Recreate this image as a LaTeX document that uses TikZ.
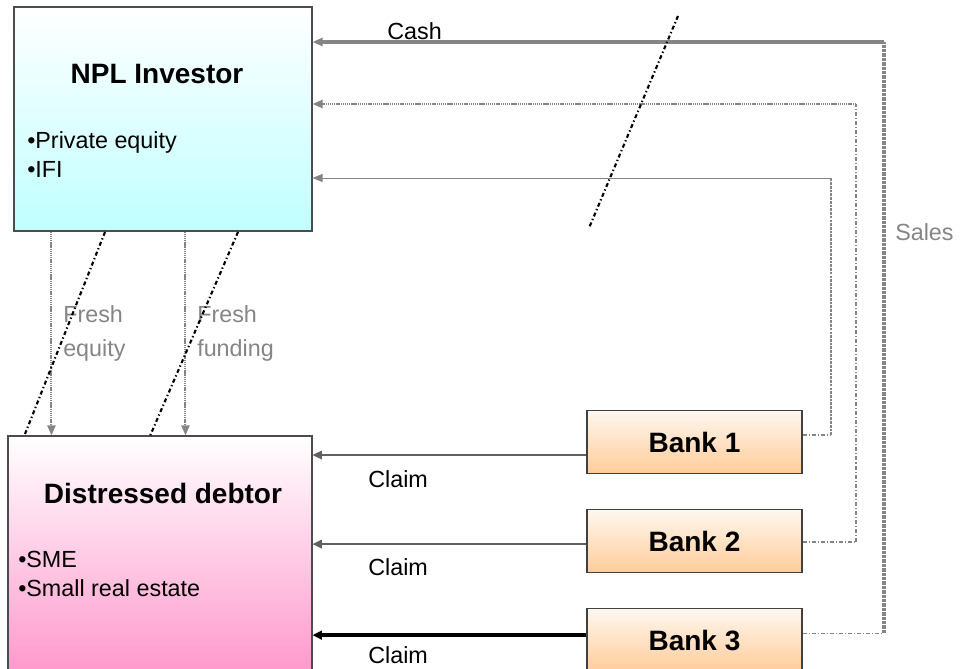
\documentclass[tikz,border=0pt]{standalone}
\usepackage{fontspec}
\setmainfont{Liberation Sans}
\usepackage{tikz}
\usetikzlibrary{arrows.meta,positioning,calc}
\definecolor{nplcyan}{HTML}{C0FFFF}
\definecolor{debtpink}{HTML}{FF99CC}
\definecolor{banktop}{HTML}{FFF7F0}
\definecolor{bankorange}{HTML}{FFCC99}
\definecolor{flowgray}{HTML}{858585}
\definecolor{claimgray}{HTML}{606060}
\tikzset{
  partybox/.style={draw=black!70, line width=0.8pt, inner sep=0pt},
  bankbox/.style={draw=black!75, line width=0.8pt, top color=banktop, bottom color=bankorange, minimum width=161.25pt, minimum height=47.25pt, inner sep=0pt, font=\fontsize{21}{25}\selectfont\bfseries},
  partytitle/.style={inner sep=0pt, anchor=base, font=\fontsize{21}{25}\selectfont\bfseries},
  bulletitem/.style={inner sep=0pt, anchor=base west, font=\fontsize{17.5}{20}\selectfont},
  flowtext/.style={inner sep=0pt, anchor=base west, font=\fontsize{17.5}{20}\selectfont},
  freshtext/.style={inner sep=0pt, anchor=north west, align=left, text=flowgray, font=\fontsize{17.5}{25.5}\selectfont},
  graytip/.style={-{Triangle[length=7.5pt,width=6pt]}},
  cashthick/.style={graytip, draw=flowgray, line width=2.6pt},
  cashdotted/.style={graytip, draw=flowgray, line width=1.8pt, dash pattern=on 1pt off 0.6pt},
  cashthin/.style={graytip, draw=flowgray, line width=0.75pt},
  railthick/.style={draw=flowgray, line width=2.4pt, dash pattern=on 2.5pt off 0.8pt},
  railmid/.style={draw=flowgray, line width=1pt, dash pattern=on 3pt off 1.5pt on 0.8pt off 1.5pt},
  railthin/.style={draw=flowgray, line width=2pt, dash pattern=on 2pt off 0.8pt},
  salestub/.style={draw=flowgray, line width=0.9pt, dash pattern=on 3pt off 1.5pt on 0.8pt off 1.5pt},
  fresh/.style={graytip, draw=flowgray, line width=1.5pt, dash pattern=on 1pt off 0.6pt},
  claimline/.style={-{Triangle[length=7pt,width=6.5pt]}, draw=claimgray, line width=0.9pt},
  claimbold/.style={-{Triangle[length=7pt,width=6.5pt]}, draw=black, line width=2.8pt},
  breakline/.style={draw=black, line width=1.6pt, dash pattern=on 3pt off 2pt on 1pt off 2pt}
}

\begin{document}
\begin{tikzpicture}[x=0.75pt, y=-0.75pt, node distance=26.25pt]
  \useasboundingbox (0,0) rectangle (964,668);
  \clip (0,0) rectangle (964,668);

  \node[partybox, top color=white, bottom color=nplcyan, minimum width=223.5pt, minimum height=168pt] (npl) at (163,119) {};
  \node[partytitle] (npltitle) at (157,83) {NPL Investor};
  \node[bulletitem] (nplitem1) at (27,148) {•Private equity};
  \node[bulletitem] (nplitem2) at (27,177) {•IFI};

  \node[partybox, top color=white, bottom color=debtpink, minimum width=228pt, minimum height=177pt] (debtor) at (160,554) {};
  \node[partytitle] (debtortitle) at (163,503) {Distressed debtor};
  \node[bulletitem] (debtitem1) at (18,567) {•SME};
  \node[bulletitem] (debtitem2) at (18,596) {•Small real estate};

  \node[bankbox] (bank1) at (694.5,442) {Bank 1};
  \node[bankbox, below=of bank1] (bank2) {Bank 2};
  \node[bankbox, below=of bank2] (bank3) {Bank 3};

  \coordinate (rail3) at (884,42);
  \coordinate (rail2) at (856,104);
  \coordinate (rail1) at (831,178);

  \draw[salestub] ($(bank3.east)+(0,-7)$) coordinate (b3out) -- (b3out -| rail3) coordinate (b3turn);
  \draw[railthick] (b3turn) -- (rail3);
  \draw[cashthick] (rail3) -- (rail3 -| npl.east);

  \draw[salestub] ($(bank2.east)+(0,1)$) coordinate (b2out) -- (b2out -| rail2) coordinate (b2turn);
  \draw[railmid] (b2turn) -- (rail2);
  \draw[cashdotted] (rail2) -- (rail2 -| npl.east);

  \draw[salestub] ($(bank1.east)+(0,-7)$) coordinate (b1out) -- (b1out -| rail1) coordinate (b1turn);
  \draw[railthin] (b1turn) -- (rail1);
  \draw[cashthin] (rail1) -- (rail1 -| npl.east);

  \draw[claimline] ($(bank1.west)+(0,13)$) coordinate (c1) -- (c1 -| debtor.east);
  \draw[claimline] ($(bank2.west)+(0,3)$) coordinate (c2) -- (c2 -| debtor.east);
  \draw[claimbold] ($(bank3.west)+(0,-5)$) coordinate (c3) -- (c3 -| debtor.east);

  \draw[fresh] ($(npl.south west)+(38,0)$) coordinate (eqtop) -- (eqtop |- debtor.north);
  \draw[fresh] ($(npl.south west)+(172,0)$) coordinate (fundtop) -- (fundtop |- debtor.north);

  \node[flowtext] (cashlabel) at (387,39) {Cash};
  \node[flowtext, text=flowgray] (saleslabel) at (895,240) {Sales};
  \node[freshtext] (equitylabel) at (63,305.5) {Fresh\\equity};
  \node[freshtext] (fundinglabel) at (197,305.5) {Fresh\\funding};
  \node[flowtext] (claim1) at (368,487) {Claim};
  \node[flowtext] (claim2) at (368,575) {Claim};
  \node[flowtext] (claim3) at (368,663) {Claim};

  \draw[breakline] (105,232) -- (25,434);
  \draw[breakline] (238,232) -- (150,436);
  \draw[breakline] (678,16) -- (589,228);
\end{tikzpicture}
\end{document}
